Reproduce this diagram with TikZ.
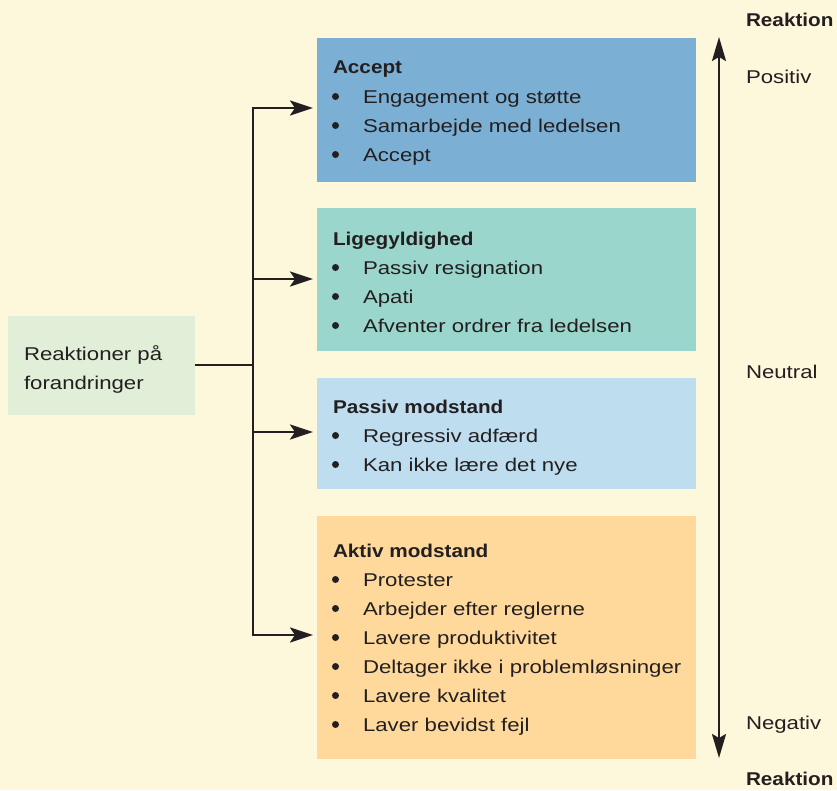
\documentclass[tikz,border=0pt]{standalone}
\usepackage{fontspec}
\setmainfont{Liberation Sans}[FakeStretch=1.2]
\newfontfamily\headfont{Liberation Sans}[FakeStretch=1.12]
\usetikzlibrary{arrows.meta}
\definecolor{paper}{RGB}{253,247,220}
\definecolor{inkc}{RGB}{35,31,32}
\definecolor{accbox}{RGB}{123,175,212}
\definecolor{ligbox}{RGB}{154,214,203}
\definecolor{pasbox}{RGB}{190,222,240}
\definecolor{aktbox}{RGB}{254,217,155}
\definecolor{srcbox}{RGB}{225,238,216}
\tikzset{
  panel/.style={draw=none, inner sep=0, outer sep=0, anchor=north west},
  txt/.style={inner sep=0, outer sep=0, anchor=base west, text=inkc,
    font=\fontsize{18.5}{22}\selectfont},
  head/.style={inner sep=0, outer sep=0, anchor=base west, text=inkc,
    font=\headfont\bfseries\fontsize{18.5}{22}\selectfont},
  item/.style={txt},
  conn/.style={draw=inkc, line width=2.8pt,
    -{Stealth[length=23pt,width=15pt,inset=5pt]}, shorten >=4pt},
  trunk/.style={draw=inkc, line width=2.8pt},
  axisline/.style={draw=inkc, line width=2.4pt,
    {Stealth[length=24pt,width=14pt,inset=4pt]}-{Stealth[length=24pt,width=14pt,inset=4pt]}}
}
% bullet dot placed to the left of an item node
\newcommand{\dotfor}[1]{\fill[inkc] (#1.base west) ++(-27.5,-6.5) circle (3.5pt);}
\begin{document}
\begin{tikzpicture}[x=1pt,y=-1pt]
\useasboundingbox (0,0) rectangle (837,790);
\fill[paper] (0,0) rectangle (837,790);

% coloured panels
\node[panel, fill=srcbox, minimum width=187pt, minimum height=99pt] (src) at (8,316) {};
\node[panel, fill=accbox, minimum width=379pt, minimum height=144pt] (acc) at (317,38) {};
\node[panel, fill=ligbox, minimum width=379pt, minimum height=143pt] (lig) at (317,208) {};
\node[panel, fill=pasbox, minimum width=379pt, minimum height=111pt] (pas) at (317,378) {};
\node[panel, fill=aktbox, minimum width=379pt, minimum height=243pt] (akt) at (317,516) {};

% source label
\node[txt] (s1) at (24,360) {Reaktioner på};
\node[txt] (s2) at (24,389) {forandringer};

% Accept
\node[head] (a0) at (333,73) {Accept};
\node[item] (a1) at (363,103) {Engagement og støtte};
\node[item] (a2) at (363,132) {Samarbejde med ledelsen};
\node[item] (a3) at (363,161) {Accept};

% Ligegyldighed
\node[head] (l0) at (333,245) {Ligegyldighed};
\node[item] (l1) at (363,274) {Passiv resignation};
\node[item] (l2) at (363,303) {Apati};
\node[item] (l3) at (363,332) {Afventer ordrer fra ledelsen};

% Passiv modstand
\node[head] (p0) at (333,413) {Passiv modstand};
\node[item] (p1) at (363,442) {Regressiv adfærd};
\node[item] (p2) at (363,471) {Kan ikke lære det nye};

% Aktiv modstand
\node[head] (k0) at (333,557) {Aktiv modstand};
\node[item] (k1) at (363,586) {Protester};
\node[item] (k2) at (363,615) {Arbejder efter reglerne};
\node[item] (k3) at (363,644) {Lavere produktivitet};
\node[item] (k4) at (363,673) {Deltager ikke i problemløsninger};
\node[item] (k5) at (363,702) {Lavere kvalitet};
\node[item] (k6) at (363,731) {Laver bevidst fejl};

% bullets
\foreach \n in {a1,a2,a3,l1,l2,l3,p1,p2,k1,k2,k3,k4,k5,k6}{\dotfor{\n}}

% branching connectors
\coordinate (j0) at (253,365);
\coordinate (j1) at (253,108);
\coordinate (j2) at (253,279);
\coordinate (j3) at (253,432);
\coordinate (j4) at (253,635);
\draw[trunk] (src.east |- j0) -- (j0);
\draw[trunk] ([yshift=-1.4pt]j1) -- ([yshift=1.4pt]j4);
\draw[conn] ([xshift=-1.4pt]j1) -- (acc.west |- j1);
\draw[conn] (j2) -- (lig.west |- j2);
\draw[conn] (j3) -- (pas.west |- j3);
\draw[conn] ([xshift=-1.4pt]j4) -- (akt.west |- j4);

% reaction scale
\coordinate (top) at (719,37);
\coordinate (bot) at (719,758);
\draw[axisline] (top) -- (bot);
\node[head] (r1) at (746,26) {Reaktion};
\node[txt] (r2) at (746,83) {Positiv};
\node[txt] (r3) at (746,378) {Neutral};
\node[txt] (r4) at (746,729) {Negativ};
\node[head] (r5) at (746,785) {Reaktion};
\end{tikzpicture}
\end{document}
